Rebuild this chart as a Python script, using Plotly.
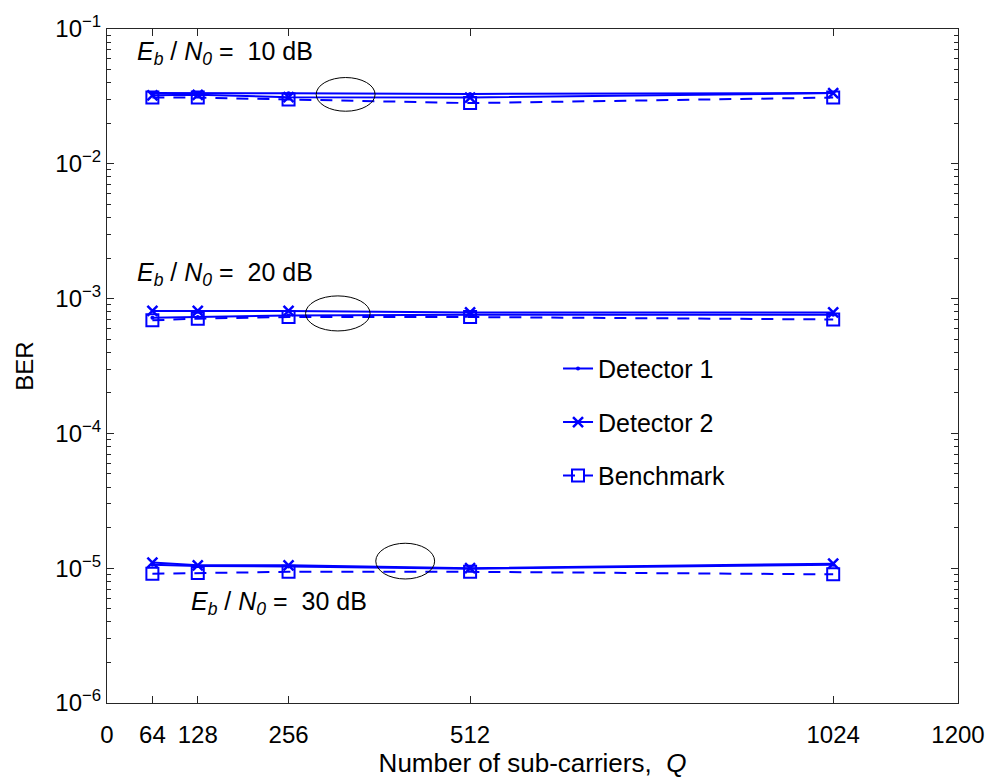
import plotly.graph_objects as go

# ---- data ----
Q = [64, 128, 256, 512, 1024]

det1_10dB = [0.0335, 0.0335, 0.0333, 0.0330, 0.0335]
det2_10dB = [0.0322, 0.0325, 0.0312, 0.0310, 0.0335]
bench_10dB = [0.0310, 0.0310, 0.0300, 0.0282, 0.0310]

det1_20dB = [7.2e-4, 7.3e-4, 7.5e-4, 7.6e-4, 7.6e-4]
det2_20dB = [8.1e-4, 8.1e-4, 8.1e-4, 7.9e-4, 7.9e-4]
bench_20dB = [6.9e-4, 7.1e-4, 7.3e-4, 7.3e-4, 7.0e-4]

det1_30dB = [1.06e-5, 1.04e-5, 1.03e-5, 0.99e-5, 1.06e-5]
det2_30dB = [1.10e-5, 1.05e-5, 1.05e-5, 1.00e-5, 1.08e-5]
bench_30dB = [9.1e-6, 9.2e-6, 9.4e-6, 9.4e-6, 9.0e-6]

x_ticks = [0, 64, 128, 256, 512, 1024, 1200]
y_decades = [-6, -5, -4, -3, -2, -1]
y_ticks = [10.0 ** d for d in y_decades]
y_ticktext = ["10<sup>\u2212%d</sup>" % (-d) for d in y_decades]
y_minor = [m * 10.0 ** d for d in y_decades[:-1] for m in range(2, 10)]

BLUE = "#0000FF"
FONT = "Liberation Sans, Arial, sans-serif"
AX = "#262626"

fig = go.Figure()

series = [
    ("Detector 1", [det1_10dB, det1_20dB, det1_30dB],
     dict(symbol="circle", size=4, color=BLUE), dict(color=BLUE, width=2, dash="solid")),
    ("Detector 2", [det2_10dB, det2_20dB, det2_30dB],
     dict(symbol="x-thin", size=10, color=BLUE, line=dict(color=BLUE, width=2.5)),
     dict(color=BLUE, width=2, dash="solid")),
    ("Benchmark", [bench_10dB, bench_20dB, bench_30dB],
     dict(symbol="square-open", size=12, color=BLUE, line=dict(color=BLUE, width=2)),
     dict(color=BLUE, width=2, dash="12px,9px")),
]

for name, groups, marker, line in series:
    for i, vals in enumerate(groups):
        fig.add_trace(go.Scatter(
            x=Q, y=vals, mode="lines+markers", name=name,
            legendgroup=name, showlegend=(i == 0),
            marker=marker, line=line,
        ))

# ellipses (x in data, y in axis-domain fraction)
ellipses = [
    (295, 378, 0.878, 0.928),
    (280, 371, 0.552, 0.604),
    (379, 462, 0.184, 0.237),
]
for x0, x1, y0, y1 in ellipses:
    fig.add_shape(type="circle", xref="x", yref="y domain",
                  x0=x0, x1=x1, y0=y0, y1=y1,
                  line=dict(color="black", width=1))

labels = [
    ("10", 39, 0.965),
    ("20", 39, 0.637),
    ("30", 116, 0.148),
]
for db, xa, ya in labels:
    fig.add_annotation(
        text="<i>E</i><sub><i>b</i></sub> / <i>N</i><sub><i>0</i></sub> =  %s dB" % db,
        xref="x", yref="y domain", x=xa, y=ya, xanchor="left", yanchor="middle",
        showarrow=False, font=dict(family=FONT, size=25, color="black"))

fig.update_layout(
    width=997, height=778,
    margin=dict(l=107, r=32, t=29, b=70),
    paper_bgcolor="white", plot_bgcolor="white",
    font=dict(family=FONT, size=24, color="black"),
    showlegend=True,
    legend=dict(x=0.53, y=0.53, xanchor="left", yanchor="top",
                bgcolor="rgba(0,0,0,0)", borderwidth=0,
                font=dict(family=FONT, size=25, color="black"),
                tracegroupgap=18),
    xaxis=dict(
        range=[0, 1200], tickvals=x_ticks, ticktext=[str(v) for v in x_ticks],
        showgrid=False, zeroline=False,
        showline=True, linecolor=AX, linewidth=1, mirror="allticks",
        ticks="inside", ticklen=7, tickcolor=AX,
        ticklabelstandoff=10,
        tickfont=dict(family=FONT, size=24, color="black"),
        title=dict(text="Number of sub-carriers,  <i>Q</i>", standoff=0,
                   font=dict(family=FONT, size=26, color="black")),
    ),
    yaxis=dict(
        type="log", range=[-6, -1], tickvals=y_ticks, ticktext=y_ticktext,
        showgrid=False, zeroline=False,
        showline=True, linecolor=AX, linewidth=1, mirror="allticks",
        ticks="inside", ticklen=7, tickcolor=AX,
        minor=dict(tickvals=y_minor, ticks="inside", ticklen=4, tickcolor=AX, showgrid=False),
        tickfont=dict(family=FONT, size=24, color="black"),
        title=dict(text="BER", standoff=14,
                   font=dict(family=FONT, size=24, color="black")),
    ),
)

fig.write_html("out.html")
